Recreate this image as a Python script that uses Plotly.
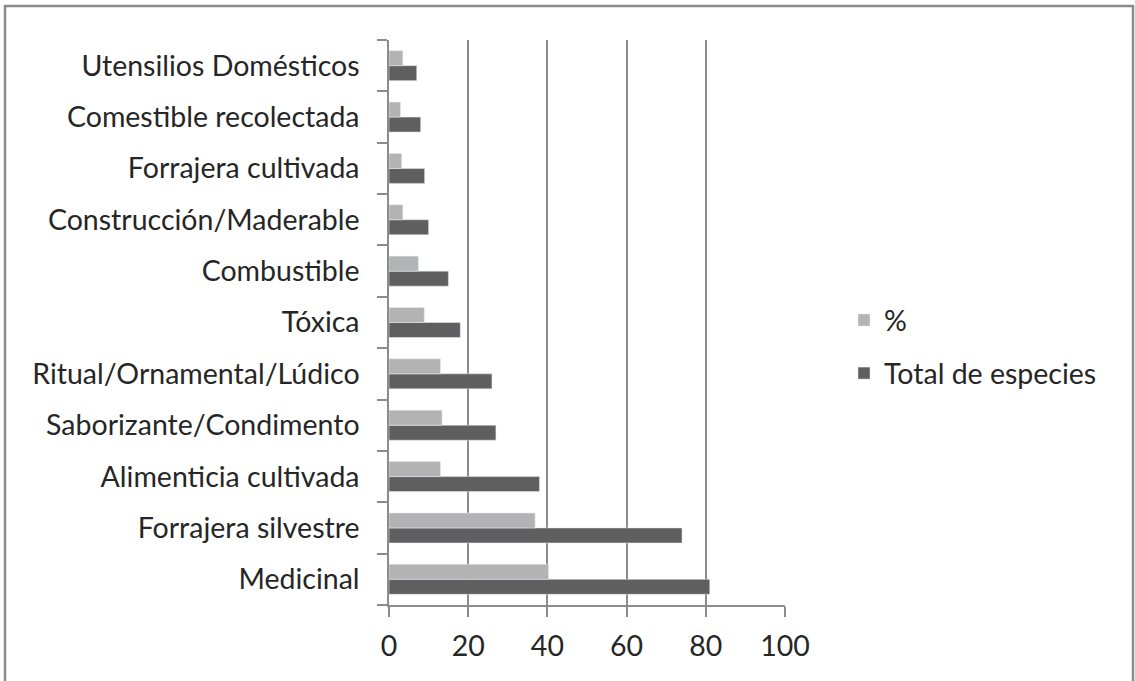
import plotly.graph_objects as go

categories = ["Medicinal", "Forrajera silvestre", "Alimenticia cultivada",
              "Saborizante/Condimento", "Ritual/Ornamental/Lúdico", "Tóxica",
              "Combustible", "Construcción/Maderable", "Forrajera cultivada",
              "Comestible recolectada", "Utensilios Domésticos"]
total_especies = [81, 74, 38, 27, 26, 18, 15, 10, 9, 8, 7]
porcentaje = [40.3, 36.9, 13.0, 13.4, 13.0, 8.9, 7.4, 3.5, 3.2, 2.9, 3.5]
x_ticks = [0, 20, 40, 60, 80, 100]

FONT = "Lato"
TXT = "#262626"
GRID = "#8c8c8c"

fig = go.Figure()
fig.add_trace(go.Bar(y=categories, x=total_especies, orientation="h",
                     name="Total de especies", marker_color="#5f5f5f",
                     legendgroup="b", legendrank=2))
fig.add_trace(go.Bar(y=categories, x=porcentaje, orientation="h",
                     name="%", marker_color="#b3b3b3",
                     legendgroup="a", legendrank=1))

W, H = 1135, 681
L, T = 389, 40
R = W - 785
B = H - 605
pw, ph = W - L - R, H - T - B

def px_x(p):
    return (p - L) / pw

def px_y(p):
    return (H - B - p) / ph

fig.update_layout(
    width=W, height=H,
    margin=dict(l=L, r=R, t=T, b=B, autoexpand=False),
    paper_bgcolor="white", plot_bgcolor="white",
    barmode="group", bargap=0.416, bargroupgap=0,
    font=dict(family=FONT, size=28.5, color=TXT),
    showlegend=True,
    legend=dict(x=px_x(844), y=px_y(295), xanchor="left", yanchor="top",
                traceorder="grouped", tracegroupgap=13,
                font=dict(family=FONT, size=28.5, color=TXT),
                bgcolor="rgba(0,0,0,0)", itemwidth=30),
    xaxis=dict(range=[0, 100], tickvals=x_ticks, showgrid=True,
               gridcolor=GRID, gridwidth=1.5, zeroline=False,
               showline=True, linecolor=GRID, linewidth=1.5,
               ticks="outside", ticklen=10, tickcolor=GRID, tickwidth=1.5,
               ticklabelstandoff=5, fixedrange=True),
    yaxis=dict(categoryorder="array", categoryarray=categories,
               showgrid=False, zeroline=False,
               showline=True, linecolor=GRID, linewidth=1.5,
               ticks="outside", ticklen=10, tickcolor=GRID, tickwidth=1.5,
               tickson="boundaries", ticklabelstandoff=22, fixedrange=True),
    shapes=[dict(type="rect", xref="paper", yref="paper",
                 x0=px_x(5), x1=px_x(1133), y0=px_y(720), y1=px_y(6),
                 line=dict(color="#8a8a8a", width=2.5), layer="below")],
)

fig.write_html("out.html", config={"displayModeBar": False},
               post_script="document.body.style.margin='0';document.body.style.overflow='hidden';")
